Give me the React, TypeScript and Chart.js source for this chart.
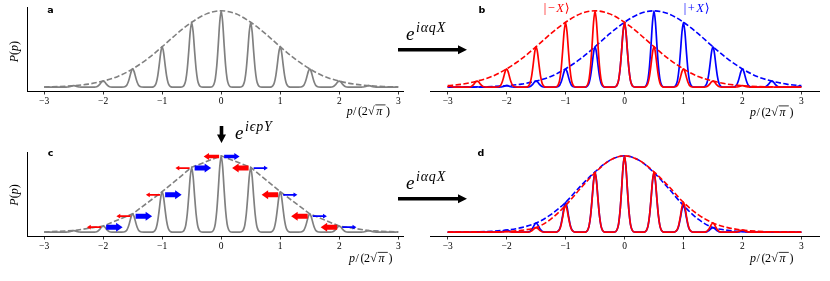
import React, { useEffect, useRef } from 'react';
import { Chart, registerables } from 'chart.js';
Chart.register(...registerables);

// ---------- data ----------
const X_TICKS = [-3, -2, -1, 0, 1, 2, 3];
const PEAK_X = [-3, -2.5, -2, -1.5, -1, -0.5, 0, 0.5, 1, 1.5, 2, 2.5, 3];
const ENV_X = [-3, -2.75, -2.5, -2.25, -2, -1.75, -1.5, -1.25, -1, -0.75, -0.5, -0.25, 0, 0.25, 0.5, 0.75, 1, 1.25, 1.5, 1.75, 2, 2.25, 2.5, 2.75, 3];

// panel a
const A_PEAKS = [0.003, 0.02, 0.08, 0.24, 0.53, 0.85, 1.0, 0.85, 0.53, 0.24, 0.08, 0.02, 0.003];
const A_ENV = [0.003, 0.008, 0.02, 0.04, 0.08, 0.14, 0.24, 0.37, 0.53, 0.7, 0.85, 0.96, 1.0, 0.96, 0.85, 0.7, 0.53, 0.37, 0.24, 0.14, 0.08, 0.04, 0.02, 0.008, 0.003];

// panel b
const B_RED_PEAKS = [0.02, 0.08, 0.24, 0.53, 0.85, 1.0, 0.85, 0.53, 0.24, 0.08, 0.02, 0.003, 0];
const B_BLUE_PEAKS = [0, 0.003, 0.02, 0.08, 0.24, 0.53, 0.85, 1.0, 0.85, 0.53, 0.24, 0.08, 0.02];
const B_RED_ENV = [0.02, 0.04, 0.08, 0.14, 0.24, 0.37, 0.53, 0.7, 0.85, 0.96, 1.0, 0.96, 0.85, 0.7, 0.53, 0.37, 0.24, 0.14, 0.08, 0.04, 0.02, 0.008, 0.003, 0.001, 0];
const B_BLUE_ENV = [0, 0.001, 0.003, 0.008, 0.02, 0.04, 0.08, 0.14, 0.24, 0.37, 0.53, 0.7, 0.85, 0.96, 1.0, 0.96, 0.85, 0.7, 0.53, 0.37, 0.24, 0.14, 0.08, 0.04, 0.02];

// panel c
const C_PEAKS = [0.003, 0.02, 0.08, 0.24, 0.53, 0.85, 1.0, 0.85, 0.53, 0.24, 0.08, 0.02, 0.003];
const C_ARROW_X = [-2, -1.5, -1, -0.5, 0, 0.5, 1, 1.5, 2];
const C_ARROW_Y = [0.066, 0.21, 0.49, 0.84, 0.99, 0.84, 0.49, 0.21, 0.066];
const C_RED_MAG = [0.35, 0.35, 0.35, 0.35, 0.7, 1, 1, 1, 1];
const C_BLUE_MAG = [1, 1, 1, 1, 0.7, 0.35, 0.35, 0.35, 0.35];

// panel d
const D_RED_PEAKS = [0, 0.001, 0.008, 0.06, 0.35, 0.78, 1.0, 0.79, 0.39, 0.12, 0.028, 0.004, 0];
const D_BLUE_PEAKS = [0, 0.004, 0.028, 0.12, 0.39, 0.79, 1.0, 0.78, 0.35, 0.06, 0.008, 0.001, 0];
const D_RED_ENV = [0, 0.0005, 0.001, 0.003, 0.008, 0.025, 0.06, 0.17, 0.35, 0.57, 0.78, 0.94, 1.0, 0.94, 0.79, 0.6, 0.39, 0.23, 0.12, 0.06, 0.028, 0.012, 0.004, 0.001, 0];
const D_BLUE_ENV = [0, 0.001, 0.004, 0.012, 0.028, 0.06, 0.12, 0.23, 0.39, 0.6, 0.79, 0.94, 1.0, 0.94, 0.78, 0.57, 0.35, 0.17, 0.06, 0.025, 0.008, 0.003, 0.001, 0.0005, 0];

// shape of one narrow peak (offset from centre, relative height)
const PEAK_DX = [-0.19, -0.15, -0.125, -0.1, -0.075, -0.05, -0.025, 0, 0.025, 0.05, 0.075, 0.1, 0.125, 0.15, 0.19];
const PEAK_SHAPE = [0, 0.008, 0.035, 0.11, 0.28, 0.55, 0.85, 1, 0.85, 0.55, 0.28, 0.11, 0.035, 0.008, 0];

// ---------- helpers ----------
const GRAY = '#808080';
const RED = '#ff0000';
const BLUE = '#0000ff';
const DASH = [5.5, 2.4];
const SERIF = "'Liberation Serif', 'DejaVu Serif', serif";

function peakSeries(centers: number[], heights: number[]) {
  const pts: { x: number; y: number }[] = [{ x: -3, y: 0 }];
  centers.forEach((c, i) => {
    const h = heights[i];
    if (!(h > 0)) return;
    PEAK_DX.forEach((dx, j) => {
      const x = c + dx;
      if (x <= -3 || x >= 3) return;
      pts.push({ x, y: h * PEAK_SHAPE[j] });
    });
  });
  pts.push({ x: 3, y: 0 });
  return pts.sort((a, b) => a.x - b.x);
}

function envSeries(xs: number[], ys: number[]) {
  return xs.map((x, i) => ({ x, y: ys[i] }));
}

function solid(data: any, color: string) {
  return { data, borderColor: color, borderWidth: 1.7, pointRadius: 0, cubicInterpolationMode: 'monotone', fill: false };
}
function dashed(data: any, color: string, smooth = true) {
  return {
    data, borderColor: color, borderWidth: 1.6, pointRadius: 0, borderDash: DASH, fill: false,
    cubicInterpolationMode: smooth ? 'monotone' : 'default', tension: 0,
  };
}

function fmt(v: number) {
  return v < 0 ? '\u2212' + Math.abs(v) : String(v);
}

function makeOptions(xmin: number, xmax: number, showY: boolean, padding: any) {
  return {
    responsive: false,
    animation: false,
    events: [],
    layout: { padding },
    plugins: { legend: { display: false }, tooltip: { enabled: false } },
    scales: {
      x: {
        type: 'linear',
        min: xmin,
        max: xmax,
        afterBuildTicks: (s: any) => {
          s.ticks = X_TICKS.map((v) => ({ value: v }));
        },
        afterFit: (s: any) => {
          s.height = 24;
        },
        ticks: {
          callback: (v: any) => fmt(Number(v)),
          font: { family: SERIF, size: 9.5, lineHeight: 1 },
          color: '#000',
          padding: 2.5,
          maxRotation: 0,
          autoSkip: false,
        },
        grid: { drawOnChartArea: false, drawTicks: true, tickLength: 3.5, tickColor: '#000', tickWidth: 0.8 },
        border: { display: true, color: '#000', width: 1 },
      },
      y: {
        display: showY,
        min: -0.05,
        max: 1.05,
        afterFit: (s: any) => {
          s.width = 0;
        },
        ticks: { display: false },
        grid: { display: false, drawTicks: false },
        border: { display: true, color: '#000', width: 1 },
      },
    },
  };
}

function drawArrow(ctx: CanvasRenderingContext2D, x0: number, x1: number, y: number, m: number, color: string) {
  const dir = x1 > x0 ? 1 : -1;
  const shaft = 5 * m;
  const headW = 2.5 + 6.5 * m;
  const headL = 2.5 + 4 * m;
  const xb = x1 - dir * headL;
  ctx.fillStyle = color;
  ctx.beginPath();
  ctx.moveTo(x0, y - shaft / 2);
  ctx.lineTo(xb, y - shaft / 2);
  ctx.lineTo(xb, y - headW / 2);
  ctx.lineTo(x1, y);
  ctx.lineTo(xb, y + headW / 2);
  ctx.lineTo(xb, y + shaft / 2);
  ctx.lineTo(x0, y + shaft / 2);
  ctx.closePath();
  ctx.fill();
}

const shiftArrows = {
  id: 'shiftArrows',
  afterDatasetsDraw(chart: any) {
    const { ctx } = chart;
    const xs = chart.scales.x;
    const ys = chart.scales.y;
    ctx.save();
    C_ARROW_X.forEach((px, i) => {
      const y = ys.getPixelForValue(C_ARROW_Y[i]);
      const mr = C_RED_MAG[i];
      const mb = C_BLUE_MAG[i];
      const lr = 0.22 + 0.06 * mr;
      const lb = 0.22 + 0.06 * mb;
      drawArrow(ctx, xs.getPixelForValue(px - 0.035), xs.getPixelForValue(px - 0.035 - lr), y, mr, RED);
      drawArrow(ctx, xs.getPixelForValue(px + 0.05), xs.getPixelForValue(px + 0.05 + lb), y, mb, BLUE);
    });
    ctx.restore();
  },
};

// ---------- component ----------
function XLabel({ x, y }: { x: number; y: number }) {
  return (
    <g transform={`translate(${x},${y})`} fontFamily={SERIF} fontSize={12} fill="#000">
      <text>
        <tspan x={0} fontStyle="italic">p</tspan>
        <tspan x={6.4}>/</tspan>
        <tspan x={11.4}>(</tspan>
        <tspan x={15}>2</tspan>
        <tspan x={21.2}>{'\u221A'}</tspan>
        <tspan x={29.6} fontStyle="italic">{'\u03C0'}</tspan>
        <tspan x={39.4}>)</tspan>
      </text>
      <line x1={28.6} x2={38.8} y1={-9.6} y2={-9.6} stroke="#000" strokeWidth={0.8} />
    </g>
  );
}

function YLabel({ x, y }: { x: number; y: number }) {
  return (
    <text
      transform={`translate(${x},${y}) rotate(-90)`}
      textAnchor="middle"
      dominantBaseline="central"
      fontFamily={SERIF}
      fontSize={12}
      fill="#000"
    >
      <tspan fontStyle="italic">P</tspan>(<tspan fontStyle="italic">p</tspan>)
    </text>
  );
}

function Exp({ x, y, sup }: { x: number; y: number; sup: string[] }) {
  return (
    <g fontFamily={SERIF} fontStyle="italic" fill="#000">
      <text x={x} y={y} fontSize={19}>e</text>
      <text x={x + 10} y={y - 8.4} fontSize={14}>
        {sup.map((s, i) => (
          <tspan key={i} dx={i === 0 ? 0 : 0.8}>{s}</tspan>
        ))}
      </text>
    </g>
  );
}

function Letter({ x, y, t }: { x: number; y: number; t: string }) {
  return (
    <text x={x} y={y} textAnchor="middle" dominantBaseline="central" fontFamily="'DejaVu Sans', sans-serif" fontWeight="bold" fontSize={9.5} fill="#000">
      {t}
    </text>
  );
}

function Ket({ x, y, sign, color }: { x: number; y: number; sign: string; color: string }) {
  return (
    <text x={x} y={y} textAnchor="middle" dominantBaseline="central" fontFamily={SERIF} fontSize={12.5} fill={color}>
      <tspan>|</tspan>
      <tspan dx={1.5}>{sign}</tspan>
      <tspan dx={1.5} fontStyle="italic">X</tspan>
      <tspan dx={0.8}>{'\u27E9'}</tspan>
    </text>
  );
}

export default function App() {
  const refA = useRef<HTMLCanvasElement>(null);
  const refB = useRef<HTMLCanvasElement>(null);
  const refC = useRef<HTMLCanvasElement>(null);
  const refD = useRef<HTMLCanvasElement>(null);

  useEffect(() => {
    document.body.style.margin = '0';
    const charts: Chart[] = [];
    charts.push(
      new Chart(refA.current!, {
        type: 'line',
        data: {
          datasets: [solid(peakSeries(PEAK_X, A_PEAKS), GRAY), dashed(envSeries(ENV_X, A_ENV), GRAY)] as any,
        },
        options: makeOptions(-3.29, 3.08, true, { left: 27, right: 12, top: 7, bottom: 0 }) as any,
      })
    );
    charts.push(
      new Chart(refB.current!, {
        type: 'line',
        data: {
          datasets: [
            solid(peakSeries(PEAK_X, B_RED_PEAKS), RED),
            dashed(envSeries(ENV_X, B_RED_ENV), RED),
            solid(peakSeries(PEAK_X, B_BLUE_PEAKS), BLUE),
            dashed(envSeries(ENV_X, B_BLUE_ENV), BLUE),
          ] as any,
        },
        options: makeOptions(-3.3, 3.3, false, { left: 15, right: 11, top: 7, bottom: 0 }) as any,
      })
    );
    charts.push(
      new Chart(refC.current!, {
        type: 'line',
        data: {
          datasets: [solid(peakSeries(PEAK_X, C_PEAKS), GRAY), dashed(envSeries(PEAK_X, C_PEAKS), GRAY, false)] as any,
        },
        options: makeOptions(-3.29, 3.08, true, { left: 27, right: 12, top: 7, bottom: 0 }) as any,
        plugins: [shiftArrows],
      })
    );
    charts.push(
      new Chart(refD.current!, {
        type: 'line',
        data: {
          datasets: [
            solid(peakSeries(PEAK_X, D_RED_PEAKS), RED),
            dashed(envSeries(ENV_X, D_RED_ENV), RED),
            solid(peakSeries(PEAK_X, D_BLUE_PEAKS), BLUE),
            dashed(envSeries(ENV_X, D_BLUE_ENV), BLUE),
          ] as any,
        },
        options: makeOptions(-3.3, 3.3, false, { left: 15, right: 11, top: 7, bottom: 0 }) as any,
      })
    );
    return () => charts.forEach((c) => c.destroy());
  }, []);

  const cv = (l: number, t: number): React.CSSProperties => ({ position: 'absolute', left: l, top: t, width: 415, height: 115 });

  return (
    <div style={{ position: 'fixed', left: 0, top: 0, width: 830, height: 281, background: '#fff', overflow: 'hidden' }}>
      <canvas ref={refA} width={415} height={115} style={cv(0, 0)} />
      <canvas ref={refB} width={415} height={115} style={cv(415, 0)} />
      <canvas ref={refC} width={415} height={115} style={cv(0, 145)} />
      <canvas ref={refD} width={415} height={115} style={cv(415, 145)} />
      <svg width={830} height={281} style={{ position: 'absolute', left: 0, top: 0, pointerEvents: 'none' }}>
        {/* arrows between panels */}
        <polygon points="398,48 458,48 458,45.3 467,49.8 458,54.3 458,51.6 398,51.6" fill="#000" />
        <polygon points="398,197 458,197 458,194.3 467,198.8 458,203.3 458,200.6 398,200.6" fill="#000" />
        <polygon points="219.7,126 223.3,126 223.3,134.5 226,134.5 221.5,143 217,134.5 219.7,134.5" fill="#000" />
        <Exp x={406} y={40} sup={['i', '\u03B1', 'q', 'X']} />
        <Exp x={406} y={189} sup={['i', '\u03B1', 'q', 'X']} />
        <Exp x={235} y={139} sup={['i', '\u03F5', 'p', 'Y']} />

        <Letter x={50.5} y={9.5} t="a" />
        <Letter x={482} y={9} t="b" />
        <Letter x={50.5} y={152.5} t="c" />
        <Letter x={481} y={152} t="d" />

        <Ket x={556.7} y={8} sign={'\u2212'} color={RED} />
        <Ket x={696.7} y={8} sign="+" color={BLUE} />

        <XLabel x={346.7} y={114.5} />
        <XLabel x={750} y={115.5} />
        <XLabel x={349} y={262} />
        <XLabel x={750} y={262} />
        <YLabel x={14} y={51.7} />
        <YLabel x={14} y={195} />
      </svg>
    </div>
  );
}
